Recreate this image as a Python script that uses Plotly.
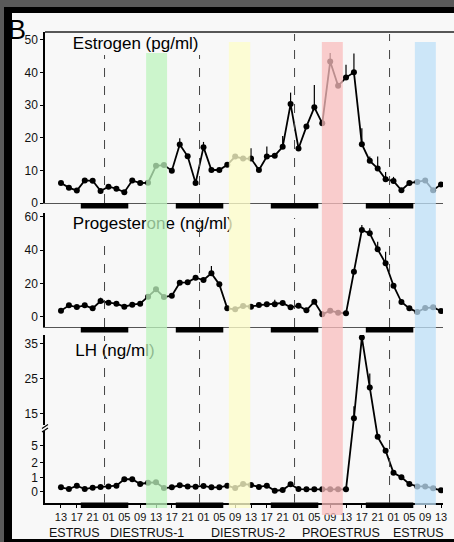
import numpy as np
import plotly.graph_objects as go

W, H = 454, 542

# ---------------- data ----------------
hours = list(range(0, 97, 2))  # hours after 13:00 on day 1, sampled every 2 h

estrogen = [6.1, 4.7, 3.8, 6.9, 6.8, 3.7, 5.0, 4.4, 3.3, 6.9,
            6.1, 6.2, 11.4, 11.6, 9.9, 17.9, 14.3, 6.1, 17.1, 10.1,
            10.1, 11.7, 14.2, 13.6, 13.6, 10.1, 14.2, 14.5, 17.2, 30.3,
            16.7, 23.4, 29.3, 24.4, 43.3, 35.9, 38.4, 40.0, 18.0, 12.9,
            10.6, 7.3, 6.7, 3.9, 6.1, 6.4, 6.9, 3.9, 5.7]
estrogen_err = [0, 0, 0, 0, 0, 0, 0, 0, 0, 0,
                0, 0, 0, 0, 0, 1.9, 0, 0, 1.6, 0,
                0, 0, 0, 0, 3.2, 0, 3.1, 0, 3.3, 3.5,
                0, 0, 6.8, 0, 2.6, 0, 3.9, 5.8, 4.9, 1.3,
                3.6, 2.2, 1.3, 0, 0, 0, 0, 0, 0]

progesterone = [3.6, 6.8, 5.8, 6.8, 5.0, 9.4, 8.4, 7.8, 6.0, 7.2,
                7.8, 12.0, 16.4, 11.8, 12.6, 20.4, 20.6, 23.4, 22.0, 26.0,
                19.4, 5.0, 4.4, 6.4, 6.0, 7.0, 7.4, 7.4, 8.2, 5.6,
                6.6, 3.8, 9.0, 1.4, 3.6, 2.4, 2.0, 27.0, 52.0, 50.0,
                40.4, 32.0, 18.6, 8.8, 5.0, 2.8, 5.2, 5.6, 3.4]
progesterone_err = [0, 0, 0, 0, 0, 2.0, 0, 0, 0, 0,
                    0, 0, 0, 0, 0, 0, 0, 0, 0, 4.4,
                    0, 0, 0, 0, 0, 0, 0, 2.8, 0, 0,
                    0, 0, 0, 0, 0, 0, 0, 0, 3.0, 3.0,
                    4.6, 7.0, 0, 0, 0, 0, 0, 0, 0]

lh = [0.31, 0.19, 0.43, 0.19, 0.29, 0.34, 0.38, 0.43, 0.89, 0.89,
      0.55, 0.64, 0.67, 0.26, 0.31, 0.46, 0.38, 0.36, 0.41, 0.31,
      0.31, 0.43, 0.26, 0.55, 0.48, 0.34, 0.43, 0.07, 0.12, 0.53,
      0.19, 0.17, 0.17, 0.17, 0.17, 0.17, 0.17, 13.6, 36.7, 22.4,
      7.9, 4.1, 1.32, 1.03, 0.55, 0.38, 0.38, 0.24, 0.10]
lh_err = [0] * 37 + [3.4, 0, 4.0, 1.0, 0.5, 0, 0, 0, 0, 0, 0, 0]

tick_hours = list(range(0, 97, 4))
tick_labels = ["13", "17", "21", "01", "05", "09"] * 4 + ["13"]
midnight_hours = [11, 35, 59, 83]
dark_start = [5, 29, 53, 77]
dark_end = [17, 41, 65, 89]
band_start = [21.5, 42.4, 65.9, 89.4]
band_end = [26.8, 47.8, 71.2, 94.7]
phase_names = ["ESTRUS", "DIESTRUS-1", "DIESTRUS-2", "PROESTRUS", "ESTRUS"]
panel_titles = ["Estrogen (pg/ml)", "Progesterone (ng/ml)", "LH (ng/ml)"]
est_ticks = [0, 10, 20, 30, 40, 50]
prog_ticks = [0, 20, 40, 60]
lh_ticks = [0, 1, 2, 5, 15, 25, 35]

# broken LH axis: piecewise scale (value -> axis units)
lh_scale_in = [0, 1, 2, 5, 10.8, 35, 45]
lh_scale_out = [0, 14, 29.4, 46, 63.7, 148.3, 183.26]


def lh_t(v):
    return np.interp(np.asarray(v, dtype=float), lh_scale_in, lh_scale_out)


lh_y = lh_t(lh)
lh_err_t = lh_t(np.array(lh) + np.array(lh_err)) - lh_y


# ---------------- helpers ----------------
def px(x):
    return x / W


def py(y):
    return 1 - y / H


XDOM = [px(45), px(443)]
XRANGE = [-4.04, 96.5]

fig = go.Figure()

common = dict(mode="lines+markers", line=dict(color="black", width=1.8),
              marker=dict(color="black", size=6), showlegend=False,
              hoverinfo="skip")
err_style = dict(type="data", symmetric=False, color="black", thickness=1.2, width=0)

fig.add_trace(go.Scatter(x=hours, y=estrogen, xaxis="x", yaxis="y",
                         error_y=dict(array=estrogen_err, arrayminus=[0] * len(hours), **err_style),
                         **common))
fig.add_trace(go.Scatter(x=hours, y=progesterone, xaxis="x2", yaxis="y2",
                         error_y=dict(array=progesterone_err, arrayminus=[0] * len(hours), **err_style),
                         **common))
fig.add_trace(go.Scatter(x=hours, y=lh_y, xaxis="x3", yaxis="y3",
                         error_y=dict(array=lh_err_t, arrayminus=[0] * len(hours), **err_style),
                         **common))

# panel titles as text traces (so coloured bands overlay them)
title_font = dict(family="Liberation Sans, Arial, sans-serif", size=17, color="black")
fig.add_trace(go.Scatter(x=[3.0], y=[48.4], text=[panel_titles[0]], mode="text",
                         textposition="middle right", textfont=title_font,
                         xaxis="x", yaxis="y", showlegend=False, hoverinfo="skip", cliponaxis=False))
fig.add_trace(go.Scatter(x=[3.0], y=[55.0], text=[panel_titles[1]], mode="text",
                         textposition="middle right", textfont=title_font,
                         xaxis="x2", yaxis="y2", showlegend=False, hoverinfo="skip", cliponaxis=False))
fig.add_trace(go.Scatter(x=[3.6], y=[139.7], text=[panel_titles[2]], mode="text",
                         textposition="middle right", textfont=title_font,
                         xaxis="x3", yaxis="y3", showlegend=False, hoverinfo="skip", cliponaxis=False))

yfont = dict(family="Liberation Sans, Arial, sans-serif", size=12, color="#111")
xfont = dict(family="Liberation Sans Narrow, Arial Narrow, Liberation Sans, sans-serif", size=11, color="#111")

xcommon = dict(domain=XDOM, range=XRANGE, showgrid=False, zeroline=False, fixedrange=True,
               automargin=False)
ycommon = dict(showgrid=False, zeroline=False, showline=True, linecolor="black", linewidth=1.5,
               ticks="outside", ticklen=3, tickwidth=1, tickcolor="black", tickfont=yfont,
               fixedrange=True, automargin=False)

fig.update_layout(
    width=W, height=H, autosize=False, margin=dict(l=0, r=0, t=0, b=0, pad=0),
    paper_bgcolor="#595959", plot_bgcolor="rgba(0,0,0,0)",
    xaxis=dict(anchor="y", showline=True, linecolor="#555", linewidth=1,
               showticklabels=False, ticks="", **xcommon),
    xaxis2=dict(anchor="y2", showline=True, linecolor="#555", linewidth=1,
                showticklabels=False, ticks="", **xcommon),
    xaxis3=dict(anchor="y3", showline=True, linecolor="black", linewidth=2,
                ticks="outside", ticklen=3, tickcolor="black",
                tickvals=tick_hours, ticktext=tick_labels, tickfont=xfont, **xcommon),
    yaxis=dict(anchor="x", domain=[py(203), py(32)], range=[0, 52.36],
               tickvals=est_ticks, **ycommon),
    yaxis2=dict(anchor="x2", domain=[py(327), py(213)], range=[-6.18, 62.2],
                tickvals=prog_ticks, **ycommon),
    yaxis3=dict(anchor="x3", domain=[py(503), py(335)], range=[-11.3, 156.7],
                tickvals=list(lh_t(lh_ticks)), ticktext=[str(t) for t in lh_ticks], **ycommon),
)

shapes = []
# frame: black border + light panel (kept inside the paper)
shapes.append(dict(type="rect", xref="paper", yref="paper", x0=px(4), x1=1,
                   y0=0, y1=py(7), fillcolor="black", line=dict(width=0), layer="below"))
shapes.append(dict(type="rect", xref="paper", yref="paper", x0=px(12), x1=1,
                   y0=py(539), y1=py(13), fillcolor="#f8f8f8", line=dict(width=0), layer="below"))
# top border line of estrogen panel
shapes.append(dict(type="line", xref="paper", yref="paper", x0=px(45), x1=1,
                   y0=py(32), y1=py(32), line=dict(color="#222", width=1.5)))

# dark-phase bars below each panel's baseline
for xa, ytop in (("x", 203), ("x2", 327), ("x3", 502.5)):
    for s, e in zip(dark_start, dark_end):
        shapes.append(dict(type="rect", xref=xa, yref="paper", x0=s, x1=e,
                           y0=py(ytop + 5.5), y1=py(ytop), fillcolor="black",
                           line=dict(width=0)))

# dashed midnight lines
dash_spans = {"x": [(55, 203), (55, 203), (34, 203), (34, 203)],
              "x2": [(240, 327), (218, 327), (218, 327), (218, 327)],
              "x3": [(336, 503), (336, 503), (336, 503), (336, 503)]}
for xa, spans in dash_spans.items():
    for m, (t0, t1) in zip(midnight_hours, spans):
        shapes.append(dict(type="line", xref=xa, yref="paper", x0=m, x1=m,
                           y0=py(t1), y1=py(t0), line=dict(color="#444", width=1, dash="dash")))

# LH axis break
shapes.append(dict(type="rect", xref="paper", yref="paper", x0=px(42), x1=px(48),
                   y0=py(431), y1=py(425), fillcolor="#f8f8f8", line=dict(width=0)))
shapes.append(dict(type="line", xref="paper", yref="paper", x0=px(42), x1=px(48),
                   y0=py(428.5), y1=py(424.5), line=dict(color="black", width=1.2)))
shapes.append(dict(type="line", xref="paper", yref="paper", x0=px(42), x1=px(48),
                   y0=py(432), y1=py(428), line=dict(color="black", width=1.2)))

# coloured sampling bands (drawn over the data)
band_colors = ["rgba(189,244,189,0.75)", "rgba(252,252,201,0.78)",
               "rgba(249,189,189,0.75)", "rgba(189,224,248,0.75)"]
band_tops = [53, 42, 42, 42]
band_bottoms = [508, 508, 515, 505]
for s, e, c, t0, t1 in zip(band_start, band_end, band_colors, band_tops, band_bottoms):
    shapes.append(dict(type="rect", xref="x3", yref="paper", x0=s, x1=e,
                       y0=py(t1), y1=py(t0), fillcolor=c, line=dict(width=0), layer="above"))

fig.update_layout(shapes=shapes)

annotations = []
phase_x = [74.5, 146.5, 248, 340.5, 418]
for name, xp in zip(phase_names, phase_x):
    annotations.append(dict(text=name, xref="paper", yref="paper", x=px(xp), y=py(533),
                            showarrow=False, xanchor="center", yanchor="middle",
                            font=dict(family="Liberation Sans, Arial, sans-serif", size=12.5, color="#111")))
annotations.append(dict(text="B", xref="paper", yref="paper", x=px(17), y=py(30),
                        showarrow=False, xanchor="center", yanchor="middle",
                        font=dict(family="Liberation Sans, Arial, sans-serif", size=27, color="black")))
fig.update_layout(annotations=annotations)

fig.write_html("out.html")
